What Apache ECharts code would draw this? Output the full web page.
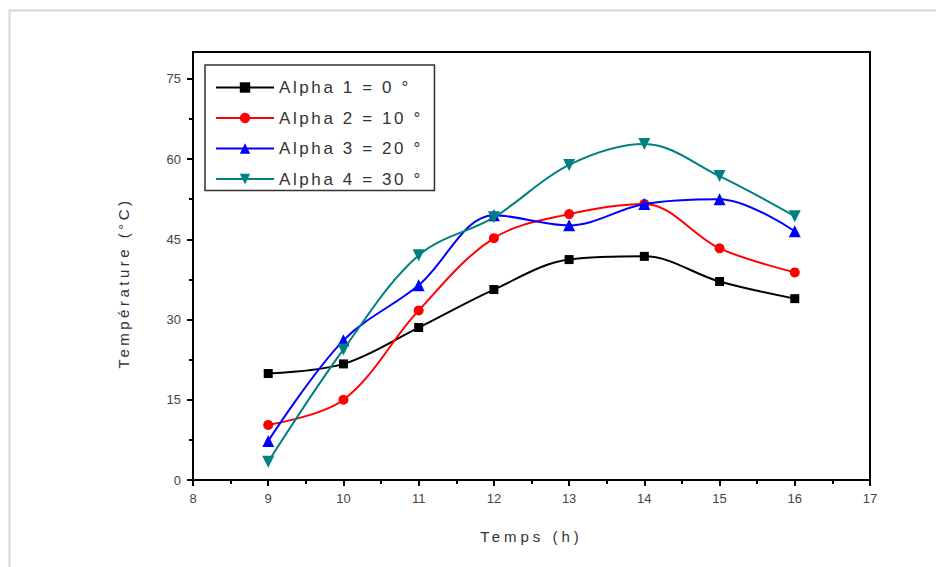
<!DOCTYPE html>
<html>
<head>
<meta charset="utf-8">
<script src="https://cdn.jsdelivr.net/npm/echarts@6/dist/echarts.min.js"></script>
<style>
html,body{margin:0;padding:0;background:#fff;}
#c{width:936px;height:567px;}
</style>
</head>
<body>
<div id="c"></div>
<script>
const hours = [9, 10, 11, 12, 13, 14, 15, 16];
const alpha1 = [19.9, 21.7, 28.5, 35.6, 41.2, 41.8, 37.1, 33.9];
const alpha2 = [10.3, 15.0, 31.7, 45.2, 49.7, 51.6, 43.3, 38.8];
const alpha3 = [7.3, 26.1, 36.4, 49.5, 47.6, 51.6, 52.5, 46.5];
const alpha4 = [3.4, 24.4, 42.0, 49.1, 58.9, 62.8, 56.8, 49.3];
const seriesNames = ['Alpha 1 = 0 °', 'Alpha 2 = 10 °', 'Alpha 3 = 20 °', 'Alpha 4 = 30 °'];
const yTicks = [0, 15, 30, 45, 60, 75];
const yMinorTicks = [7.5, 22.5, 37.5, 52.5, 67.5];
const xTicks = [8, 9, 10, 11, 12, 13, 14, 15, 16, 17];
const xName = 'Temps (h)';
const yName = 'Température (°C)';

const colors = ['#000000', '#ff0000', '#0000ff', '#008080'];
const symbols = ['rect', 'circle', 'triangle', 'path://M0,0 L10,0 L5,9 Z'];
const datas = [alpha1, alpha2, alpha3, alpha4];

const chart = echarts.init(document.getElementById('c'), null, {renderer: 'svg'});
const font = 'Liberation Sans, Arial, sans-serif';
chart.setOption({
  animation: false,
  backgroundColor: '#fff',
  graphic: [{
    type: 'rect', left: 7, top: 8, shape: {width: 928, height: 558},
    style: {fill: 'none', stroke: '#d8d8d8', lineWidth: 2}, silent: true
  }, {
    type: 'text', x: 123, y: 283, rotation: Math.PI / 2,
    style: {text: yName, font: '15px ' + font, fill: '#333', align: 'center', verticalAlign: 'middle'},
    silent: true
  }],
  grid: {left: 193, right: 66, top: 52, bottom: 87, show: true, borderColor: '#000', borderWidth: 2, backgroundColor: 'transparent'},
  legend: {
    orient: 'vertical', left: 205, top: 65,
    data: seriesNames,
    itemWidth: 58, itemHeight: 13, itemGap: 13.5,
    padding: [14, 48, 3, 10],
    borderColor: '#333', borderWidth: 1.5,
    textStyle: {fontFamily: font, fontSize: 17, color: '#333'}
  },
  xAxis: {
    type: 'value', min: 8, max: 17, interval: 1,
    name: xName, nameLocation: 'middle', nameGap: 49,
    nameTextStyle: {fontFamily: font, fontSize: 15, color: '#333'},
    axisLine: {show: true, lineStyle: {color: '#000', width: 2}},
    axisTick: {show: true, length: 6, lineStyle: {color: '#000', width: 2}},
    minorTick: {show: true, splitNumber: 2, length: 4, lineStyle: {color: '#000', width: 2}},
    splitLine: {show: false},
    axisLabel: {fontFamily: font, fontSize: 13, color: '#444', margin: 12,
      customValues: xTicks}
  },
  yAxis: [{
    type: 'value', min: 0, max: 80,
    axisLine: {show: true, lineStyle: {color: '#000', width: 2}},
    axisTick: {show: true, length: 6, lineStyle: {color: '#000', width: 2}, customValues: yTicks},
    splitLine: {show: false},
    axisLabel: {fontFamily: font, fontSize: 13, color: '#444', margin: 12, customValues: yTicks}
  }, {
    type: 'value', min: 0, max: 80, position: 'left',
    axisLine: {show: false},
    axisTick: {show: true, length: 4, lineStyle: {color: '#000', width: 2}, customValues: yMinorTicks},
    axisLabel: {show: false},
    splitLine: {show: false}
  }],
  series: datas.map((d, i) => ({
    name: seriesNames[i],
    type: 'line',
    smooth: 0.35,
    data: hours.map((h, j) => [h, d[j]]),
    symbol: symbols[i],
    symbolSize: i === 0 ? 9 : (i === 1 ? 10 : 12),
    itemStyle: {color: colors[i]},
    lineStyle: {color: colors[i], width: 2},
    z: 2 + i
  }))
});

function spaceText() {
  document.querySelectorAll('#c svg text').forEach(t => {
    const s = t.textContent;
    if (seriesNames.indexOf(s) >= 0) t.setAttribute('letter-spacing', '2.6');
    else if (s === yName) t.setAttribute('letter-spacing', '3.5');
    else if (s === xName) t.setAttribute('letter-spacing', '4');
  });
}
spaceText();
chart.on('finished', spaceText);
</script>
</body>
</html>
